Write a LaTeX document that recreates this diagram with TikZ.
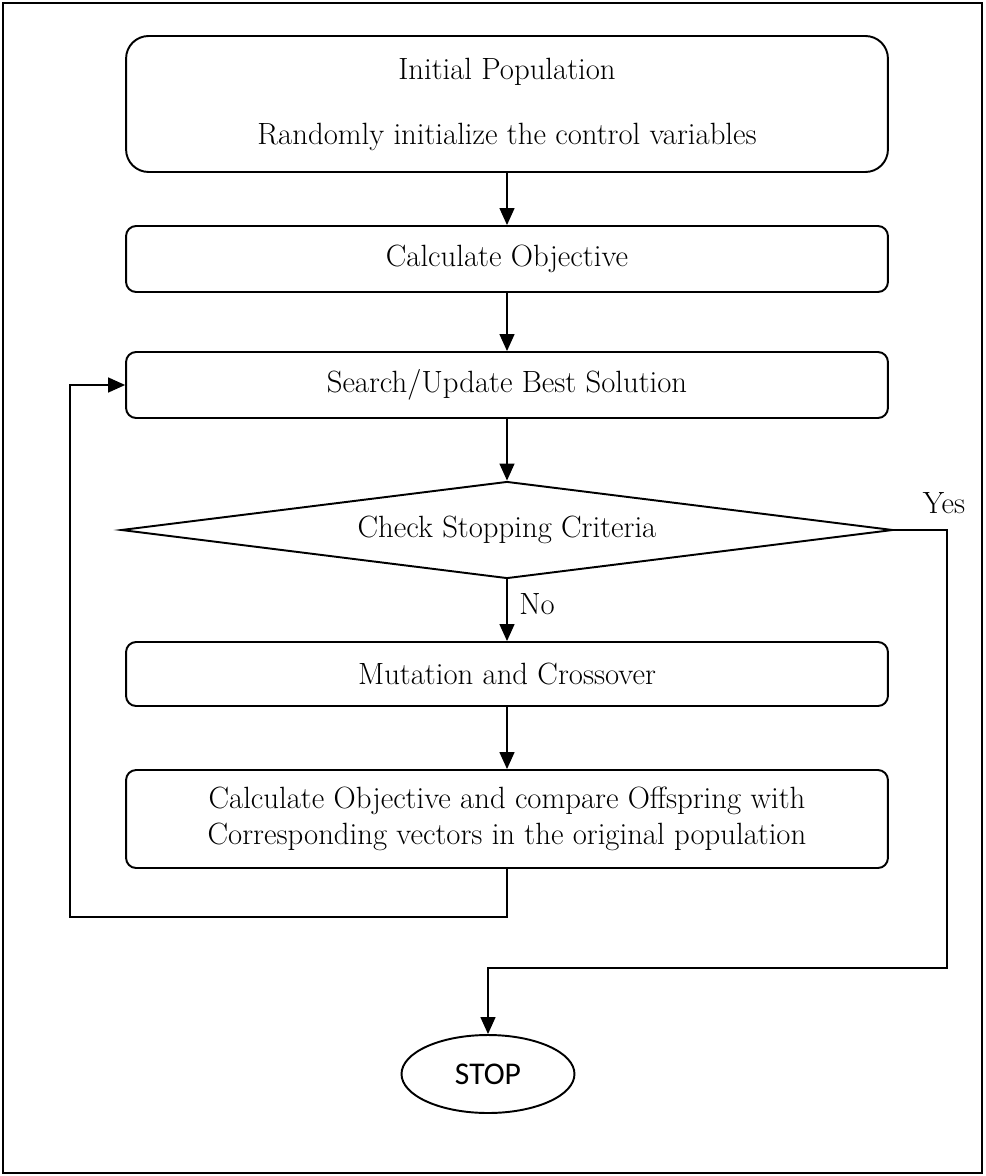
\documentclass[tikz,border=0pt]{standalone}
\usepackage{fontspec}
\newfontfamily\stopfont{Carlito}
\usetikzlibrary{shapes,calc,positioning}
\usetikzlibrary{arrows.meta}

\begin{document}
\begin{tikzpicture}%
  [x=0.02cm, y=-0.02cm, text=black,
   node font=\fontsize{17.5}{20.5}\selectfont,
   blk/.style={rectangle, draw, rounded corners=0.2cm, line width=1.1pt,
               minimum width=15.24cm, inner sep=0pt, align=center},
   arr/.style={-{Triangle[length=0.34cm,width=0.3cm]}, line width=0.8pt},
   lne/.style={line width=0.8pt}]

  \useasboundingbox (0,0) rectangle (985,1176);
  \draw[line width=1.2pt] (3,3) rectangle (982,1173);

  \node (init) at (507,104) [blk, rounded corners=0.45cm, minimum height=2.72cm]
        {Initial Population\\[0.58cm]Randomly initialize the control variables};
  \node (calc) at (507,259) [blk, minimum height=1.32cm] {Calculate Objective};
  \node (search) at (507,385) [blk, minimum height=1.32cm]
        {Search/Update Best Solution};
  \node (check) at (507,530) [diamond, draw, line width=1.1pt, aspect=8,
        inner sep=0pt, minimum width=15.44cm, minimum height=1.94cm]
        {Check Stopping Criteria};
  \node (mut) at (507,674) [blk, minimum height=1.28cm] {Mutation and Crossover};
  \node (eval) at (507,819) [blk, minimum height=1.96cm]
        {Calculate Objective and compare Offspring with\\
         Corresponding vectors in the original population};
  \node (stop) at (488,1074) [ellipse, draw, line width=1.1pt, inner sep=0pt,
        minimum width=3.46cm, minimum height=1.56cm]
        {\stopfont\fontsize{18}{20}\selectfont STOP};

  \node (yes) at (944,503) {Yes};
  \node (no) at (537,604) {No};

  \coordinate (back) at (70,917);
  \coordinate (side) at (947,968);

  \draw[arr] (init) -- (calc);
  \draw[arr] (calc) -- (search);
  \draw[arr] (search) -- (check);
  \draw[arr] (check) -- (mut);
  \draw[arr] (mut) -- (eval);
  \draw[arr] (eval.south) |- (back) |- (search.west);
  \draw[arr] (check.east) -| (side) -| (stop.north);

\end{tikzpicture}
\end{document}
